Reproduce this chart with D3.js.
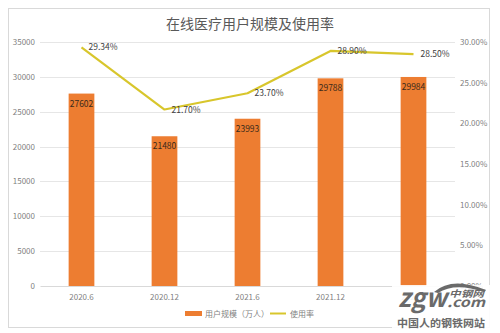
<!DOCTYPE html>
<html>
<head>
<meta charset="utf-8">
<script src="https://cdn.jsdelivr.net/npm/d3@7"></script>
<style>
  html, body { margin: 0; padding: 0; background: #fff; }
  svg { display: block; }
  text { font-family: "Noto Sans CJK SC", "Noto Sans", sans-serif; }
</style>
</head>
<body>
<svg id="chart" width="500" height="333"></svg>
<script>
// Online medical users (10k people) and usage rate
const categories = ["2020.6", "2020.12", "2021.6", "2021.12", "2022.6"];
const users = [27602, 21480, 23993, 29788, 29984];
const rates = [29.34, 21.70, 23.70, 28.90, 28.50];
const leftTicks = [0, 5000, 10000, 15000, 20000, 25000, 30000, 35000];
const rightTicks = [0, 5, 10, 15, 20, 25, 30];
const title = "在线医疗用户规模及使用率";
const legendBar = "用户规模（万人）";
const legendLine = "使用率";

const svg = d3.select("#chart");
const plot = { left: 40, right: 455, top: 42, bottom: 286 };

const barColor = "#ED7D31";
const lineColor = "#D8C62C";
const axisText = "#7f7f7f";

// frame
svg.append("rect").attr("x", 8.5).attr("y", 8.5).attr("width", 481).attr("height", 319)
  .attr("fill", "#fff").attr("stroke", "#d9d9d9").attr("stroke-width", 1);

// title
svg.append("text").attr("x", 250).attr("y", 29).attr("text-anchor", "middle")
  .attr("font-size", 14).attr("fill", "#595959").text(title);

const x = d3.scaleBand().domain(categories).range([plot.left, plot.right]).paddingInner(0.69).paddingOuter(0.345);
const yL = d3.scaleLinear().domain([0, 35000]).range([plot.bottom, plot.top]);
const yR = d3.scaleLinear().domain([0, 30]).range([plot.bottom, plot.top]);

// gridlines
svg.append("g").selectAll("line").data(leftTicks.slice(1)).join("line")
  .attr("x1", plot.left).attr("x2", plot.right)
  .attr("y1", d => Math.round(yL(d)) + 0.5).attr("y2", d => Math.round(yL(d)) + 0.5)
  .attr("stroke", "#e6e6e6").attr("stroke-width", 1);

// left axis
const leftAxis = svg.append("g").attr("transform", `translate(${plot.left},0)`)
  .call(d3.axisLeft(yL).tickValues(leftTicks).tickSize(0).tickPadding(5).tickFormat(d3.format("d")));
leftAxis.select(".domain").remove();
leftAxis.selectAll("text").attr("font-size", 8).attr("fill", axisText).attr("font-family", "\"Noto Sans\", sans-serif");

// right axis
const rightAxis = svg.append("g").attr("transform", `translate(${plot.right},0)`)
  .call(d3.axisRight(yR).tickValues(rightTicks).tickSize(0).tickPadding(5).tickFormat(d => d.toFixed(2) + "%"));
rightAxis.select(".domain").remove();
rightAxis.selectAll("text").attr("font-size", 8).attr("fill", axisText).attr("font-family", "\"Noto Sans\", sans-serif");

// bottom axis
const bottomAxis = svg.append("g").attr("transform", `translate(0,${plot.bottom})`)
  .call(d3.axisBottom(x).tickSize(0).tickPadding(8));
bottomAxis.select(".domain").attr("stroke", "#d9d9d9");
bottomAxis.selectAll("text").attr("font-size", 8).attr("fill", axisText).attr("font-family", "\"Noto Sans\", sans-serif");

// bars
svg.append("g").selectAll("rect").data(users).join("rect")
  .attr("x", (d, i) => x(categories[i]))
  .attr("width", x.bandwidth())
  .attr("y", d => yL(d))
  .attr("height", d => plot.bottom - yL(d))
  .attr("fill", barColor);

// bar labels
svg.append("g").selectAll("text").data(users).join("text")
  .attr("x", (d, i) => x(categories[i]) + x.bandwidth() / 2)
  .attr("y", d => yL(d) + 13)
  .attr("text-anchor", "middle").attr("font-size", 8.5)
  .attr("fill", "#3a2a1a").attr("font-family", "\"Noto Sans\", sans-serif")
  .text(d => d);

// rate line
const line = d3.line()
  .x((d, i) => x(categories[i]) + x.bandwidth() / 2)
  .y(d => yR(d));
svg.append("path").datum(rates).attr("d", line)
  .attr("fill", "none").attr("stroke", lineColor).attr("stroke-width", 2.2)
  .attr("stroke-linejoin", "round");

// rate labels
svg.append("g").selectAll("text").data(rates).join("text")
  .attr("x", (d, i) => x(categories[i]) + x.bandwidth() / 2 + 7)
  .attr("y", d => yR(d) + 3)
  .attr("font-size", 8.5).attr("fill", "#404040")
  .attr("font-family", "\"Noto Sans\", sans-serif")
  .text(d => d.toFixed(2) + "%");

// legend
const lg = svg.append("g");
lg.append("rect").attr("x", 185).attr("y", 311).attr("width", 17).attr("height", 5).attr("fill", barColor);
lg.append("text").attr("x", 205).attr("y", 317).attr("font-size", 8).attr("fill", axisText).text(legendBar);
lg.append("line").attr("x1", 270).attr("x2", 286).attr("y1", 313.5).attr("y2", 313.5)
  .attr("stroke", lineColor).attr("stroke-width", 2);
lg.append("text").attr("x", 290).attr("y", 317).attr("font-size", 8).attr("fill", axisText).text(legendLine);

// site mark in the lower right corner
const wm = svg.append("g");
const markGrey = "#6a6a6a";
wm.append("rect").attr("x", 392).attr("y", 285).attr("width", 100).attr("height", 46).attr("fill", "#fff").attr("opacity", 0.9);
wm.append("path").attr("d", "M 434 292 Q 452 276 486 290 L 484 292 Q 455 282 438 293 Z")
  .attr("fill", markGrey);
wm.append("text").attr("x", 398).attr("y", 307).attr("font-size", 26).attr("font-weight", "bold")
  .attr("font-style", "italic").attr("fill", markGrey).attr("font-family", "\"DejaVu Sans\", sans-serif")
  .attr("textLength", 49).attr("lengthAdjust", "spacingAndGlyphs").text("zgw");
wm.append("text").attr("x", 449).attr("y", 297).attr("font-size", 9).attr("font-weight", "bold")
  .attr("font-style", "italic").attr("fill", markGrey)
  .attr("textLength", 35).attr("lengthAdjust", "spacingAndGlyphs").text("中钢网");
wm.append("text").attr("x", 447).attr("y", 307).attr("font-size", 13).attr("font-weight", "bold")
  .attr("font-style", "italic").attr("fill", markGrey).attr("font-family", "\"DejaVu Sans\", sans-serif")
  .attr("textLength", 38).attr("lengthAdjust", "spacingAndGlyphs").text(".com");
wm.append("text").attr("x", 397).attr("y", 327).attr("font-size", 10.5).attr("font-weight", "bold")
  .attr("fill", markGrey).attr("textLength", 88).attr("lengthAdjust", "spacingAndGlyphs").text("中国人的钢铁网站");
</script>
</body>
</html>
